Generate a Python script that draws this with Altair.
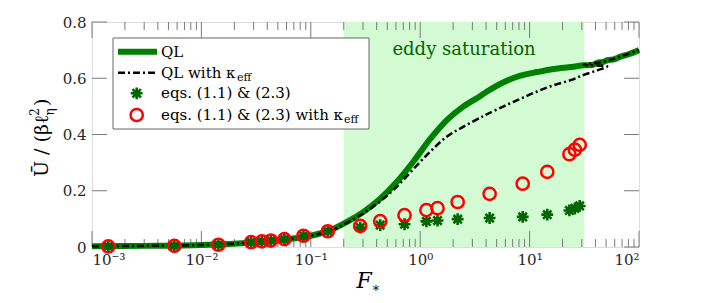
import json
import altair as alt
import pandas as pd

# ---------------- data ----------------
ql_F = [0.001, 0.003, 0.01, 0.03, 0.06, 0.1, 0.151, 0.214, 0.303, 0.431, 0.613, 0.871,
        1.24, 1.76, 2.49, 3.55, 4.08, 5.79, 8.24, 11.7, 16.6, 24.0, 31.3, 38.0, 41.5,
        47.0, 51.2, 60.0, 67.7, 80.0, 100.0]
ql_U = [0.003, 0.004, 0.007, 0.016, 0.027, 0.04, 0.06, 0.089, 0.125, 0.172, 0.232, 0.305,
        0.385, 0.452, 0.5, 0.537, 0.553, 0.586, 0.609, 0.622, 0.633, 0.640, 0.646, 0.648,
        0.655, 0.658, 0.664, 0.668, 0.677, 0.685, 0.700]

qlk_F = [0.001, 0.003, 0.01, 0.03, 0.06, 0.1, 0.151, 0.214, 0.303, 0.431, 0.613, 0.871,
         1.24, 1.76, 2.49, 3.55, 4.08, 5.79, 8.24, 11.7, 16.6, 24.0, 31.3, 41.5, 51.2,
         31.3, 41.5, 51.2, 67.7, 100.0]
qlk_U = [0.003, 0.004, 0.007, 0.016, 0.027, 0.04, 0.058, 0.086, 0.12, 0.162, 0.215, 0.278,
         0.34, 0.393, 0.428, 0.46, 0.472, 0.5, 0.527, 0.553, 0.575, 0.594, 0.612, 0.628,
         0.642, 0.648, 0.655, 0.662, 0.677, 0.700]

pts_F = [0.00141, 0.00566, 0.0143, 0.0285, 0.0357, 0.0432, 0.0574, 0.0857, 0.143, 0.283,
         0.431, 0.719, 1.14, 1.44, 2.2, 4.31, 8.65, 14.5, 23.1, 25.9, 28.7]
star_U = [0.002, 0.004, 0.008, 0.017, 0.02, 0.023, 0.028, 0.04, 0.056, 0.069, 0.078,
          0.081, 0.091, 0.094, 0.099, 0.103, 0.107, 0.115, 0.130, 0.137, 0.146]
circ_U = [0.002, 0.004, 0.008, 0.017, 0.02, 0.023, 0.028, 0.04, 0.056, 0.075, 0.092,
          0.113, 0.131, 0.138, 0.16, 0.189, 0.225, 0.267, 0.330, 0.346, 0.363]

sat_lo, sat_hi = 0.2, 31.6

x_major = [1e-3, 1e-2, 1e-1, 1, 10, 100]
x_minor = [k * 10.0 ** e for e in range(-3, 2) for k in range(2, 10)]
x_labels = ["10⁻³", "10⁻²", "10⁻¹", "10⁰", "10¹", "10²"]
y_major = [0, 0.2, 0.4, 0.6, 0.8]

legend_labels = ["QL", "QL with κ", "eqs. (1.1) & (2.3)", "eqs. (1.1) & (2.3) with κ"]

# ---------------- styling ----------------
W, H = 547, 225
FONT = "DejaVu Serif"
GREEN = "#008000"
DGREEN = "#006400"
GRAY = "#7a7a7a"
ASTER = "M0,-1L0,1M-1,0L1,0M-0.71,-0.71L0.71,0.71M-0.71,0.71L0.71,-0.71"

xs = alt.Scale(type="log", domain=[1e-3, 100])
ys = alt.Scale(domain=[0, 0.8])

xaxis = alt.Axis(values=x_major, ticks=False, tickSize=0, domain=False, grid=False,
                 labelFont=FONT, labelFontSize=15, labelColor="#262626", labelPadding=5,
                 labelExpr=json.dumps(x_labels, ensure_ascii=False) + "[round(log(datum.value)/LN10)+3]",
                 title=None)
yaxis = alt.Axis(values=y_major, ticks=False, tickSize=0, domain=False, grid=False,
                 labelFont=FONT, labelFontSize=15, labelColor="#262626", labelPadding=6,
                 labelExpr="datum.value == 0 ? '0' : format(datum.value, '.1f')",
                 title=None)


def X(f):
    return alt.X(f, type="quantitative", scale=xs, axis=xaxis, title=None)


def Y(f):
    return alt.Y(f, type="quantitative", scale=ys, axis=yaxis, title=None)


one = pd.DataFrame({"a": [0]})

shade = alt.Chart(pd.DataFrame({"lo": [sat_lo], "hi": [sat_hi]})).mark_rect(
    color="#d3fbd3").encode(x=X("lo"), x2="hi", y=alt.value(0), y2=alt.value(H))

tick_layers = []
dfx_maj = pd.DataFrame({"v": x_major})
dfx_min = pd.DataFrame({"v": x_minor})
dfy = pd.DataFrame({"v": y_major})
for df, ln in [(dfx_maj, 16), (dfx_min, 8)]:
    tick_layers.append(alt.Chart(df).mark_rule(color=GRAY, strokeWidth=1).encode(
        x=X("v"), y=alt.value(H), y2=alt.value(H - ln)))
    tick_layers.append(alt.Chart(df).mark_rule(color=GRAY, strokeWidth=1).encode(
        x=X("v"), y=alt.value(0), y2=alt.value(ln)))
tick_layers.append(alt.Chart(dfy).mark_rule(color=GRAY, strokeWidth=1).encode(
    y=Y("v"), x=alt.value(0), x2=alt.value(15)))
tick_layers.append(alt.Chart(dfy).mark_rule(color=GRAY, strokeWidth=1).encode(
    y=Y("v"), x=alt.value(W - 15), x2=alt.value(W)))

sat_text = alt.Chart(pd.DataFrame({"x": [(sat_lo * sat_hi) ** 0.5]})).mark_text(
    text="eddy saturation", font=FONT, fontSize=18, color=DGREEN, baseline="middle"
).encode(x=X("x"), y=alt.value(28))

ql = alt.Chart(pd.DataFrame({"F": ql_F, "U": ql_U})).mark_line(
    color=GREEN, strokeWidth=6, interpolate="catmull-rom").encode(x=X("F"), y=Y("U"))
qlk = alt.Chart(pd.DataFrame({"F": qlk_F, "U": qlk_U, "i": range(len(qlk_F))})).mark_line(
    color="black", strokeWidth=2.5, strokeDash=[7, 3, 2, 3], interpolate="catmull-rom").encode(
    x=X("F"), y=Y("U"), order="i:Q")
stars = alt.Chart(pd.DataFrame({"F": pts_F, "U": star_U})).mark_point(
    shape=ASTER, filled=False, stroke=DGREEN, strokeWidth=2.6, size=140, opacity=1
).encode(x=X("F"), y=Y("U"))
circs = alt.Chart(pd.DataFrame({"F": pts_F, "U": circ_U})).mark_point(
    shape="circle", filled=False, stroke="#ff0000", strokeWidth=2.5, size=150, opacity=1
).encode(x=X("F"), y=Y("U"))

# ---------------- legend ----------------
lx0, lx1, ly0, ly1 = 21, 277, 16, 107
rows = [29.7, 50.7, 71.3, 93.0]
legend = [
    alt.Chart(one).mark_rect(fill="white", stroke="#666", strokeWidth=1).encode(
        x=alt.value(lx0), x2=alt.value(lx1), y=alt.value(ly0), y2=alt.value(ly1)),
    alt.Chart(one).mark_rule(color=GREEN, strokeWidth=6).encode(
        x=alt.value(26), x2=alt.value(65), y=alt.value(rows[0])),
    alt.Chart(one).mark_rule(color="black", strokeWidth=2.5, strokeDash=[7, 3, 2, 3]).encode(
        x=alt.value(26), x2=alt.value(65), y=alt.value(rows[1])),
    alt.Chart(one).mark_point(shape=ASTER, filled=False, stroke=DGREEN, strokeWidth=2.6,
                              size=140, opacity=1).encode(x=alt.value(44.7), y=alt.value(rows[2])),
    alt.Chart(one).mark_point(shape="circle", filled=False, stroke="#ff0000", strokeWidth=2.5,
                              size=150, opacity=1).encode(x=alt.value(44.7), y=alt.value(rows[3])),
]
for lab, ry in zip(legend_labels, rows):
    legend.append(alt.Chart(one).mark_text(text=lab, font=FONT, fontSize=15, align="left",
                                           baseline="middle", color="black").encode(
        x=alt.value(69), y=alt.value(ry)))
# "eff" subscripts
legend.append(alt.Chart(one).mark_text(text="eff", font=FONT, fontSize=11, align="left",
                                       baseline="middle").encode(x=alt.value(145), y=alt.value(rows[1] + 5)))
legend.append(alt.Chart(one).mark_text(text="eff", font=FONT, fontSize=11, align="left",
                                       baseline="middle").encode(x=alt.value(252), y=alt.value(rows[3] + 5)))

# ---------------- axis titles ----------------
titles = [
    alt.Chart(one).mark_text(text="Ū / (βℓ", font=FONT, fontSize=19, angle=270, align="left",
                             baseline="middle").encode(x=alt.value(-50), y=alt.value(155)),
    alt.Chart(one).mark_text(text="2", font=FONT, fontSize=12, angle=270, align="center",
                             baseline="middle").encode(x=alt.value(-57), y=alt.value(90)),
    alt.Chart(one).mark_text(text="η", font=FONT, fontSize=12, angle=270, align="center",
                             baseline="middle").encode(x=alt.value(-42), y=alt.value(90)),
    alt.Chart(one).mark_text(text=")", font=FONT, fontSize=19, angle=270, align="left",
                             baseline="middle").encode(x=alt.value(-50), y=alt.value(84)),
    alt.Chart(one).mark_text(text="F", font=FONT, fontSize=22, fontStyle="italic", align="center",
                             baseline="alphabetic").encode(x=alt.value(272), y=alt.value(266)),
    alt.Chart(one).mark_text(text="∗", font=FONT, fontSize=13, align="center",
                             baseline="middle").encode(x=alt.value(284), y=alt.value(266)),
]

chart = alt.layer(shade, *tick_layers, sat_text, ql, qlk, stars, circs, *legend, *titles).properties(
    width=W, height=H,
    autosize=alt.AutoSizeParams(type="none"),
    padding={"left": 84, "top": 14, "right": 59, "bottom": 48},
).configure_view(stroke=GRAY, strokeWidth=1).configure(background="white")

chart.save("out.html", embed_options={"renderer": "svg", "actions": False})
